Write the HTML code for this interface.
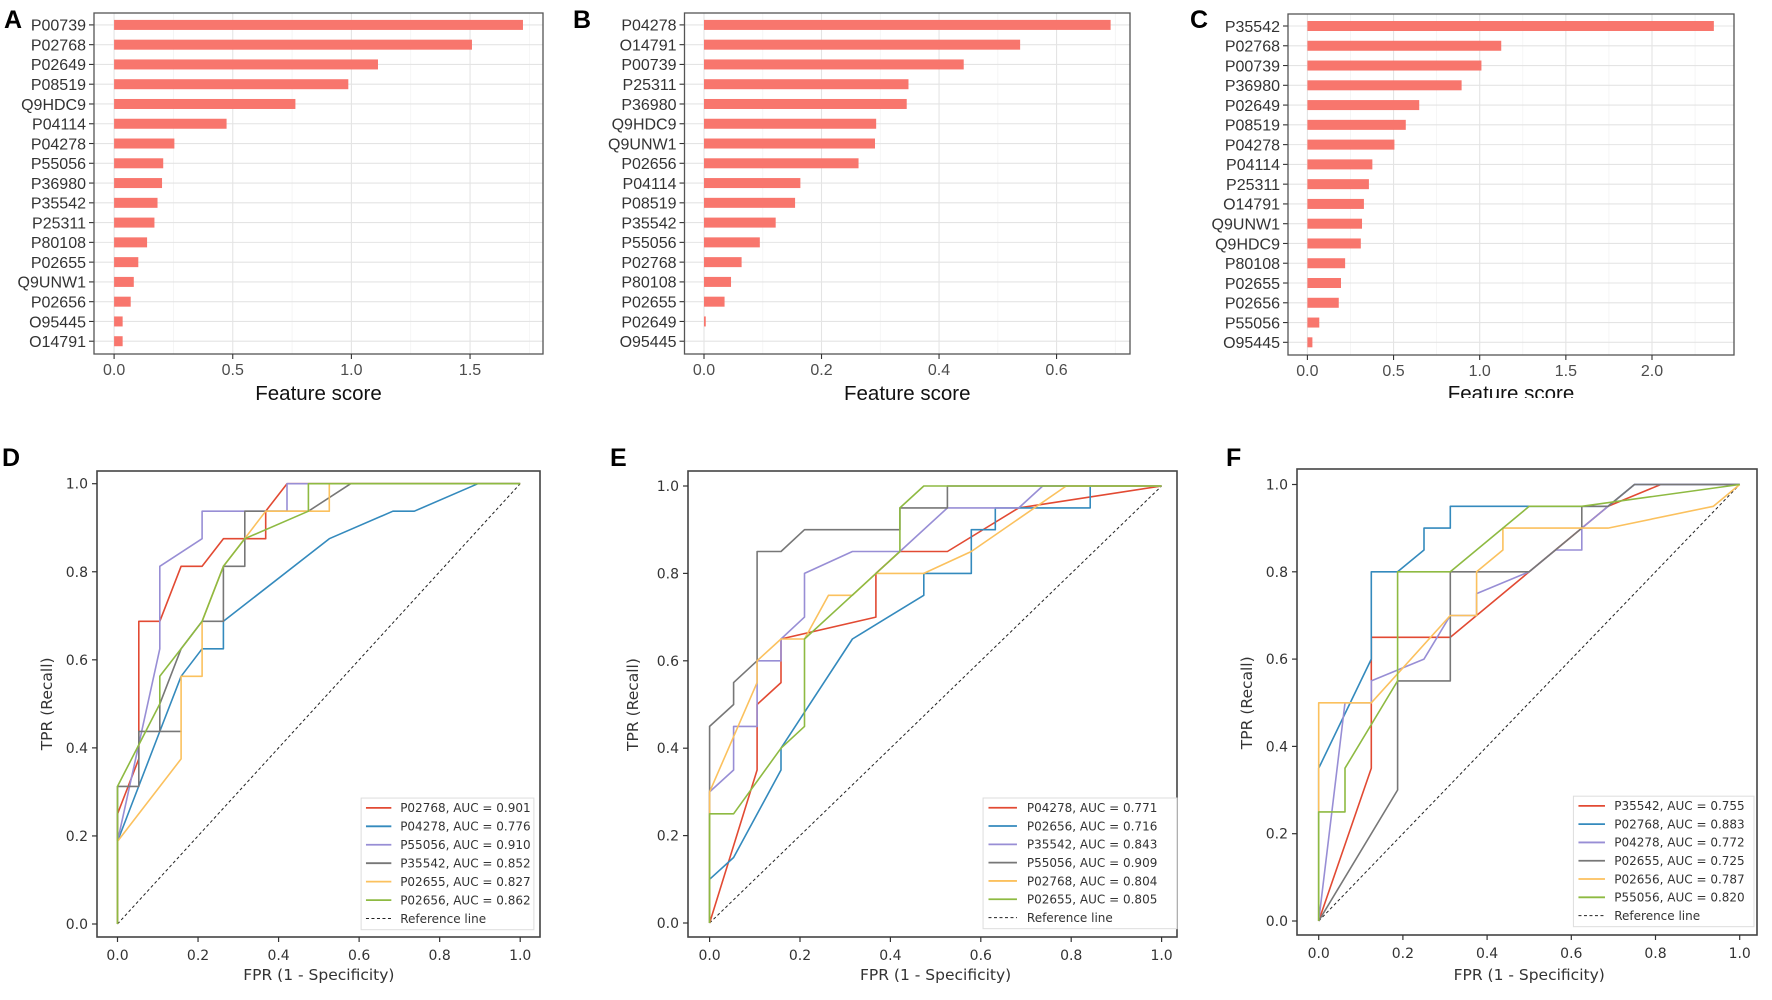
<!DOCTYPE html>
<html><head><meta charset="utf-8">
<style>
html,body{margin:0;padding:0;background:#fff;}
svg{display:block;}
</style></head>
<body>
<svg id="fig" xmlns="http://www.w3.org/2000/svg" width="1772" height="1000" viewBox="0 0 1772 1000">
<rect x="0" y="0" width="1772" height="1000" fill="#fff"/>
</svg>
<script>
// ---------- Bar chart data ----------
const aCats = ['P00739','P02768','P02649','P08519','Q9HDC9','P04114','P04278','P55056','P36980','P35542','P25311','P80108','P02655','Q9UNW1','P02656','O95445','O14791'];
const aVals = [1.723,1.508,1.112,0.987,0.764,0.474,0.254,0.207,0.202,0.183,0.170,0.139,0.102,0.083,0.070,0.036,0.036];
const aTicks = [0,0.5,1.0,1.5];
const aTickLabels = ['0.0','0.5','1.0','1.5'];
const aMinor = [0.25,0.75,1.25,1.75];

const bCats = ['P04278','O14791','P00739','P25311','P36980','Q9HDC9','Q9UNW1','P02656','P04114','P08519','P35542','P55056','P02768','P80108','P02655','P02649','O95445'];
const bVals = [0.692,0.538,0.442,0.348,0.345,0.293,0.291,0.263,0.164,0.155,0.122,0.095,0.064,0.046,0.035,0.003,0.0];
const bTicks = [0,0.2,0.4,0.6];
const bTickLabels = ['0.0','0.2','0.4','0.6'];
const bMinor = [0.1,0.3,0.5,0.7];

const cCats = ['P35542','P02768','P00739','P36980','P02649','P08519','P04278','P04114','P25311','O14791','Q9UNW1','Q9HDC9','P80108','P02655','P02656','P55056','O95445'];
const cVals = [2.359,1.125,1.010,0.895,0.649,0.571,0.505,0.377,0.357,0.328,0.317,0.310,0.219,0.195,0.182,0.069,0.029];
const cTicks = [0,0.5,1.0,1.5,2.0];
const cTickLabels = ['0.0','0.5','1.0','1.5','2.0'];
const cMinor = [0.25,0.75,1.25,1.75,2.25];

// ---------- ROC data ----------
const rocTicks = [0,0.2,0.4,0.6,0.8,1.0];
const rocTickLabels = ['0.0','0.2','0.4','0.6','0.8','1.0'];

const dNames = ['P02768','P04278','P55056','P35542','P02655','P02656'];
const dAUC = ['0.901','0.776','0.910','0.852','0.827','0.862'];
const dFpr = [
 [0,0,0.053,0.053,0.105,0.158,0.21,0.263,0.368,0.368,0.421,1],
 [0,0,0.105,0.158,0.21,0.263,0.263,0.526,0.684,0.737,0.895,1],
 [0,0,0.105,0.105,0.21,0.21,0.421,0.421,1],
 [0,0,0.053,0.053,0.158,0.105,0.105,0.158,0.21,0.263,0.263,0.316,0.316,0.474,0.579,1],
 [0,0,0.158,0.158,0.21,0.21,0.263,0.368,0.526,0.526,1],
 [0,0,0.105,0.105,0.158,0.21,0.263,0.316,0.474,0.474,1]
];
const dTpr = [
 [0,0.25,0.375,0.6875,0.6875,0.8125,0.8125,0.875,0.875,0.9375,1,1],
 [0,0.1875,0.4375,0.5625,0.625,0.625,0.6875,0.875,0.9375,0.9375,1,1],
 [0,0.1875,0.625,0.8125,0.875,0.9375,0.9375,1,1],
 [0,0.3125,0.3125,0.4375,0.4375,0.4375,0.5,0.625,0.6875,0.6875,0.8125,0.8125,0.9375,0.9375,1,1],
 [0,0.1875,0.375,0.5625,0.5625,0.6875,0.8125,0.9375,0.9375,1,1],
 [0,0.3125,0.5,0.5625,0.625,0.6875,0.8125,0.875,0.9375,1,1]
];

const eNames = ['P04278','P02656','P35542','P55056','P02768','P02655'];
const eAUC = ['0.771','0.716','0.843','0.909','0.804','0.805'];
const eFpr = [
 [0,0.105,0.105,0.158,0.158,0.368,0.368,0.421,0.526,0.684,1],
 [0,0,0.053,0.158,0.158,0.316,0.474,0.474,0.579,0.579,0.632,0.632,0.842,0.842,1],
 [0,0,0.053,0.053,0.105,0.105,0.158,0.158,0.21,0.21,0.316,0.421,0.526,0.684,0.737,1],
 [0,0,0.053,0.053,0.105,0.105,0.158,0.21,0.421,0.421,0.526,0.526,1],
 [0,0,0.105,0.105,0.158,0.21,0.263,0.316,0.368,0.474,0.579,0.789,1],
 [0,0,0.053,0.158,0.21,0.21,0.421,0.421,0.474,1]
];
const eTpr = [
 [0,0.35,0.5,0.55,0.65,0.7,0.8,0.85,0.85,0.95,1],
 [0,0.1,0.15,0.35,0.4,0.65,0.75,0.8,0.8,0.9,0.9,0.95,0.95,1,1],
 [0,0.3,0.35,0.45,0.45,0.6,0.6,0.65,0.7,0.8,0.85,0.85,0.95,0.95,1,1],
 [0,0.45,0.5,0.55,0.6,0.85,0.85,0.9,0.9,0.95,0.95,1,1],
 [0,0.3,0.55,0.6,0.65,0.65,0.75,0.75,0.8,0.8,0.85,1,1],
 [0,0.25,0.25,0.4,0.45,0.65,0.85,0.95,1,1]
];

const fNames = ['P35542','P02768','P04278','P02655','P02656','P55056'];
const fAUC = ['0.755','0.883','0.772','0.725','0.787','0.820'];
const fFpr = [
 [0,0.125,0.125,0.3125,0.5,0.625,0.6875,0.8125,1],
 [0,0,0.125,0.125,0.1875,0.25,0.25,0.3125,0.3125,0.6875,0.75,1],
 [0,0.0625,0.125,0.125,0.25,0.3125,0.375,0.375,0.5,0.5625,0.625,0.625,0.75,1],
 [0,0.1875,0.1875,0.3125,0.3125,0.5,0.625,0.625,0.6875,0.75,1],
 [0,0,0.125,0.3125,0.375,0.375,0.4375,0.4375,0.6875,0.9375,1],
 [0,0,0.0625,0.0625,0.1875,0.1875,0.3125,0.4375,0.5,0.625,1]
];
const fTpr = [
 [0,0.35,0.65,0.65,0.8,0.9,0.95,1,1],
 [0,0.35,0.6,0.8,0.8,0.85,0.9,0.9,0.95,0.95,1,1],
 [0,0.5,0.5,0.55,0.6,0.7,0.7,0.75,0.8,0.85,0.85,0.9,1,1],
 [0,0.3,0.55,0.55,0.8,0.8,0.9,0.95,0.95,1,1],
 [0,0.5,0.5,0.7,0.7,0.8,0.85,0.9,0.9,0.95,1],
 [0,0.25,0.25,0.35,0.55,0.8,0.8,0.9,0.95,0.95,1]
];

const rocColors = ['#E24A33','#348ABD','#988ED5','#777777','#FBC15E','#8EBA42'];

const svg = document.getElementById('fig');
const NS = 'http://www.w3.org/2000/svg';
function mk(tag, attrs, parent){
  const el = document.createElementNS(NS, tag);
  for (const k in attrs) el.setAttribute(k, attrs[k]);
  (parent || svg).appendChild(el);
  return el;
}

function drawBar(cfg, cats, vals, ticks, tickLabels, minor){
  const g = mk('g', {});
  
  
  const [l,t,r,b] = cfg.box;
  const X = v => cfg.x0 + v * cfg.k;
  const Y = i => cfg.rowFirst + i * cfg.rowStep;
  minor.forEach(v => {
    if (X(v) > r) return;
    const el = mk('line', {x1:X(v), x2:X(v), y1:t, y2:b, stroke:'#f3f3f3', 'stroke-width':0.8}, g);
    
    
  });
  ticks.forEach(v => {
    const el = mk('line', {x1:X(v), x2:X(v), y1:t, y2:b, stroke:'#e4e4e4', 'stroke-width':1.1}, g);
    
    
  });
  cats.forEach((c,i) => {
    const el = mk('line', {x1:l, x2:r, y1:Y(i), y2:Y(i), stroke:'#e4e4e4', 'stroke-width':1.1}, g);
    
    
  });
  cats.forEach((c,i) => {
    const w = Math.max(0, X(vals[i]) - X(0));
    const bar = mk('rect', {x:X(0), y:Y(i)-5, width:w, height:10, fill:'#F8766D'}, g);
    
    
    const tk = mk('line', {x1:l-5, x2:l, y1:Y(i), y2:Y(i), stroke:'#333', 'stroke-width':1.1}, g);
    
    
    const tx = mk('text', {x:l-8, y:Y(i)+5.8, 'text-anchor':'end', 'font-size':'16px', fill:'#333', 'font-family':'Liberation Sans, sans-serif'}, g);
    tx.textContent = c;
    
    
  });
  const border = mk('rect', {x:l, y:t, width:r-l, height:b-t, fill:'none', stroke:'#555', 'stroke-width':1.3}, g);
  
  
  ticks.forEach((v,i) => {
    const tk = mk('line', {x1:X(v), x2:X(v), y1:b, y2:b+5, stroke:'#333', 'stroke-width':1.1}, g);
    
    
    const tx = mk('text', {x:X(v), y:b+21, 'text-anchor':'middle', 'font-size':'16px', fill:'#4d4d4d', 'font-family':'Liberation Sans, sans-serif'}, g);
    tx.textContent = tickLabels[i];
    
    
  });
  const title = mk('text', {x:(l+r)/2, y:cfg.titleY, 'text-anchor':'middle', 'font-size':'20.5px', fill:'#111', 'font-family':'Liberation Sans, sans-serif'}, g);
  title.textContent = 'Feature score';
  
  
  if (cfg.clipTitle) {
    const cover = mk('rect', {x:l, y:cfg.clipTitle, width:r-l, height:20, fill:'#fff'}, g);
    
    
  }
  const letter = mk('text', {x:cfg.lx, y:cfg.ly, 'font-size':'25px', 'font-weight':'bold', fill:'#000', 'font-family':'Liberation Sans, sans-serif'}, g);
  letter.textContent = cfg.letter;
  
  
}

function drawRoc(cfg, names, aucs, fprs, tprs){
  const g = mk('g', {});
  
  
  const [l,t,r,b] = cfg.box;
  const X = v => cfg.x0 + v * cfg.kx;
  const Y = v => cfg.y0 - v * cfg.ky;
  const font = 'DejaVu Sans, sans-serif';
  const border = mk('rect', {x:l, y:t, width:r-l, height:b-t, fill:'none', stroke:'#444', 'stroke-width':1.6}, g);
  
  
  rocTicks.forEach((v,i) => {
    const tk = mk('line', {x1:X(v), x2:X(v), y1:b, y2:b+5, stroke:'#333', 'stroke-width':1.2}, g);
    
    
    const tx = mk('text', {x:X(v), y:b+23, 'text-anchor':'middle', 'font-size':'14px', fill:'#333', 'font-family':font}, g);
    tx.textContent = rocTickLabels[i];
    
    
    const ty = mk('line', {x1:l-5, x2:l, y1:Y(v), y2:Y(v), stroke:'#333', 'stroke-width':1.2}, g);
    
    
    const tyl = mk('text', {x:l-9, y:Y(v)+5, 'text-anchor':'end', 'font-size':'14px', fill:'#333', 'font-family':font}, g);
    tyl.textContent = rocTickLabels[i];
    
    
  });
  const ref = mk('line', {x1:X(0), y1:Y(0), x2:X(1), y2:Y(1), stroke:'#222', 'stroke-width':1, 'stroke-dasharray':'3,2.5'}, g);
  
  
  fprs.forEach((fp,s) => {
    const pts = fp.map((v,i) => X(v).toFixed(1) + ',' + Y(tprs[s][i]).toFixed(1)).join(' ');
    const pl = mk('polyline', {points:pts, fill:'none', stroke:rocColors[s], 'stroke-width':1.6, 'stroke-linejoin':'round'}, g);
    
    
  });
  // legend
  const lg = mk('g', {}, g);
  
  
  const box = mk('rect', {x:X(0.605), y:Y(0.286), width:X(1.034)-X(0.605), height:Y(-0.013)-Y(0.286), fill:'#fff', 'fill-opacity':0.85, stroke:'#ddd', 'stroke-width':1}, lg);
  
  
  const step = 0.0419 * cfg.ky;
  const y1 = Y(0.2638);
  names.forEach((n,s) => {
    const yy = y1 + s * step;
    const ln = mk('line', {x1:X(0.617), x2:X(0.68), y1:yy, y2:yy, stroke:rocColors[s], 'stroke-width':1.8}, lg);
    
    
    const tx = mk('text', {x:X(0.702), y:yy+4.3, 'font-size':'12px', fill:'#333', 'font-family':font}, lg);
    tx.textContent = n + ', AUC = ' + aucs[s];
    
    
  });
  const yr = y1 + names.length * step;
  const rl = mk('line', {x1:X(0.617), x2:X(0.68), y1:yr, y2:yr, stroke:'#222', 'stroke-width':1, 'stroke-dasharray':'3,2.5'}, lg);
  
  
  const rt = mk('text', {x:X(0.702), y:yr+4.3, 'font-size':'12px', fill:'#333', 'font-family':font}, lg);
  rt.textContent = 'Reference line';
  
  
  // titles
  const xt = mk('text', {x:(X(0)+X(1))/2, y:980, 'text-anchor':'middle', 'font-size':'15.5px', fill:'#333', 'font-family':font}, g);
  xt.textContent = 'FPR (1 - Specificity)';
  
  
  const cy = (Y(0)+Y(1))/2;
  const yt = mk('text', {x:cfg.ytx, y:cy, 'text-anchor':'middle', 'font-size':'15.5px', fill:'#333', 'font-family':font, transform:'rotate(-90 ' + cfg.ytx + ' ' + cy + ')'}, g);
  yt.textContent = 'TPR (Recall)';
  
  
  const letter = mk('text', {x:cfg.lx, y:cfg.ly, 'font-size':'25px', 'font-weight':'bold', fill:'#000', 'font-family':'Liberation Sans, sans-serif'}, g);
  letter.textContent = cfg.letter;
  
  
}

drawBar({id:'a', letter:'A', lx:4, ly:28, box:[94,13,543,354], x0:114.1, k:237.3, rowFirst:24.9, rowStep:19.77, titleY:400}, aCats, aVals, aTicks, aTickLabels, aMinor);
drawBar({id:'b', letter:'B', lx:573, ly:28, box:[684.5,13,1130,354], x0:704, k:587.6, rowFirst:24.9, rowStep:19.77, titleY:400}, bCats, bVals, bTicks, bTickLabels, bMinor);
drawBar({id:'c', letter:'C', lx:1190, ly:28, box:[1288,14,1734,355], x0:1307.4, k:172.3, rowFirst:26, rowStep:19.77, titleY:400, clipTitle:398}, cCats, cVals, cTicks, cTickLabels, cMinor);

drawRoc({id:'d', letter:'D', lx:2, ly:466, box:[97,471,540,937], x0:117.5, kx:402.7, y0:924, ky:440.3, ytx:52}, dNames, dAUC, dFpr, dTpr);
drawRoc({id:'e', letter:'E', lx:610, ly:466, box:[688,471,1177,937], x0:709.6, kx:452, y0:923, ky:437, ytx:638}, eNames, eAUC, eFpr, eTpr);
drawRoc({id:'f', letter:'F', lx:1226, ly:466, box:[1297,469,1757,935], x0:1318.7, kx:421, y0:921, ky:436.5, ytx:1252}, fNames, fAUC, fFpr, fTpr);
</script>
</body></html>
